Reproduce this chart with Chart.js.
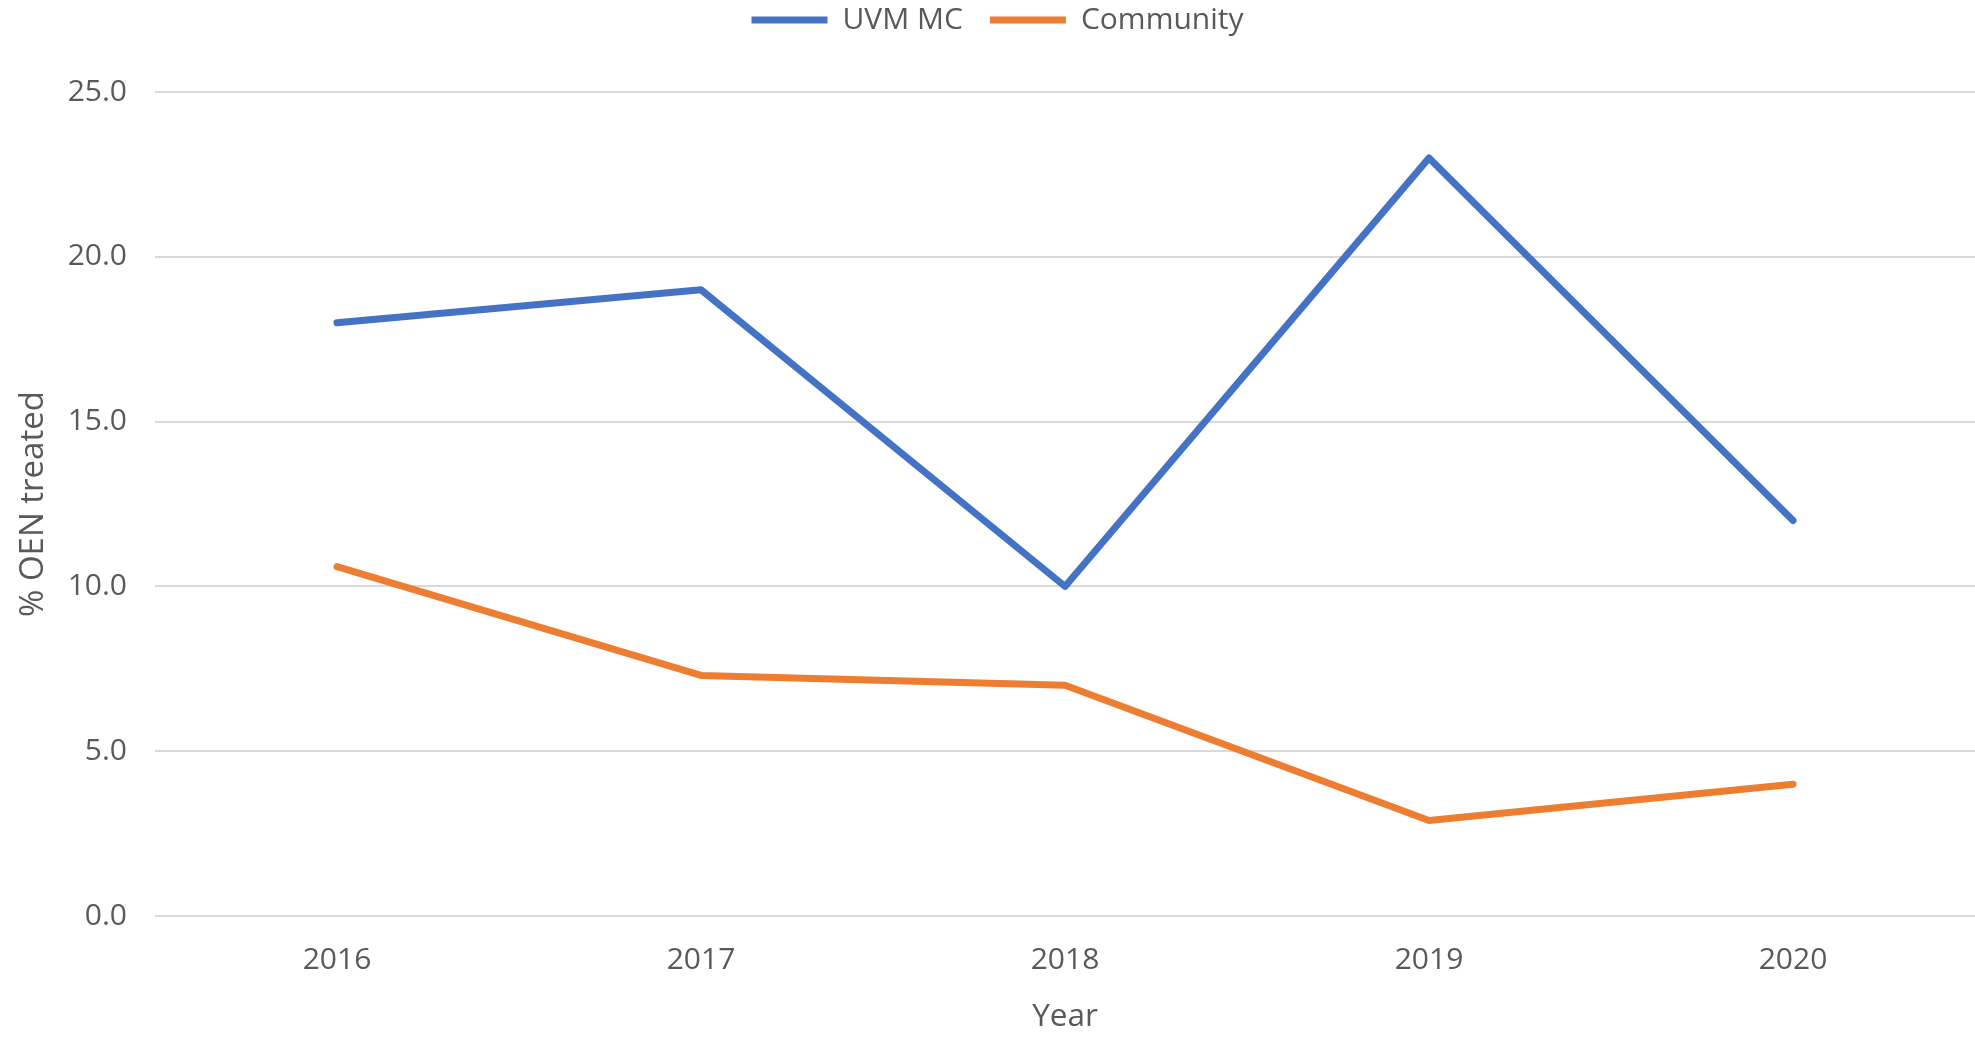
<!DOCTYPE html>
<html>
<head>
<meta charset="utf-8">
<script src="https://cdn.jsdelivr.net/npm/chart.js@4/dist/chart.umd.min.js"></script>
<style>
html,body{margin:0;padding:0;background:#fff;}
#wrap{width:1975px;height:1038px;position:relative;}
</style>
</head>
<body>
<div id="wrap"><canvas id="c"></canvas></div>
<script>
const years = ['2016', '2017', '2018', '2019', '2020'];
const uvmMC = [18.0, 19.0, 10.0, 23.0, 12.0];
const community = [10.6, 7.3, 7.0, 2.9, 4.0];
const seriesNames = ['UVM MC', 'Community'];
const yTitle = '% OEN treated';
const xTitle = 'Year';

const FONT = "'Open Sans', sans-serif";
const TXT = '#595959';
const LEGEND_SHIFT_X = 10;
const LEGEND_SHIFT_Y = -22;

const legendTweak = {
  id: 'legendTweak',
  afterInit(chart) {
    const lg = chart.legend;
    if (lg) {
      const origFit = lg.fit;
      lg.fit = function () { origFit.call(this); this.height = 92; };
      const origDraw = lg.draw;
      lg.draw = function () {
        const ctx = this.ctx;
        ctx.save();
        ctx.translate(LEGEND_SHIFT_X, LEGEND_SHIFT_Y);
        origDraw.call(this);
        ctx.restore();
      };
    }
  }
};

new Chart(document.getElementById('c'), {
  type: 'line',
  data: {
    labels: years,
    datasets: [
      { label: seriesNames[0], data: uvmMC, borderColor: '#4472C4', backgroundColor: '#4472C4' },
      { label: seriesNames[1], data: community, borderColor: '#ED7D31', backgroundColor: '#ED7D31' }
    ]
  },
  plugins: [legendTweak],
  options: {
    responsive: true,
    maintainAspectRatio: false,
    animation: false,
    layout: { padding: { left: 0, right: 0, top: 0, bottom: 0 } },
    elements: {
      line: { borderWidth: 7, tension: 0, borderCapStyle: 'round', borderJoinStyle: 'round' },
      point: { radius: 0, hoverRadius: 0 }
    },
    plugins: {
      legend: {
        position: 'top',
        labels: {
          font: { family: FONT, size: 30 },
          color: TXT,
          boxWidth: 76,
          boxHeight: 7,
          padding: 27,
          useBorderRadius: true,
          borderRadius: 3.5,
          generateLabels(chart) {
            return chart.data.datasets.map((ds, i) => ({
              text: ds.label,
              fillStyle: ds.borderColor,
              strokeStyle: ds.borderColor,
              lineWidth: 0,
              hidden: false,
              datasetIndex: i,
              fontColor: TXT
            }));
          }
        }
      },
      tooltip: { enabled: false }
    },
    scales: {
      x: {
        offset: true,
        grid: { display: false, drawTicks: false, offset: true },
        border: { display: false },
        ticks: { font: { family: FONT, size: 30 }, color: TXT, padding: 26 },
        title: { display: true, text: xTitle, font: { family: FONT, size: 31.5 }, color: TXT, padding: { top: 0, bottom: 2 } },
        afterFit(scale) { scale.height = 122; }
      },
      y: {
        min: 0,
        max: 25,
        grid: { color: '#d9d9d9', lineWidth: 2, drawTicks: false },
        border: { display: false },
        ticks: {
          stepSize: 5,
          font: { family: FONT, size: 30 },
          color: TXT,
          padding: 28,
          callback: (v) => Number(v).toFixed(1)
        },
        title: { display: true, text: yTitle, font: { family: FONT, size: 33 }, color: TXT, padding: { top: 14, bottom: 0 } },
        afterFit(scale) { scale.width = 155; }
      }
    }
  }
});
</script>
</body>
</html>
